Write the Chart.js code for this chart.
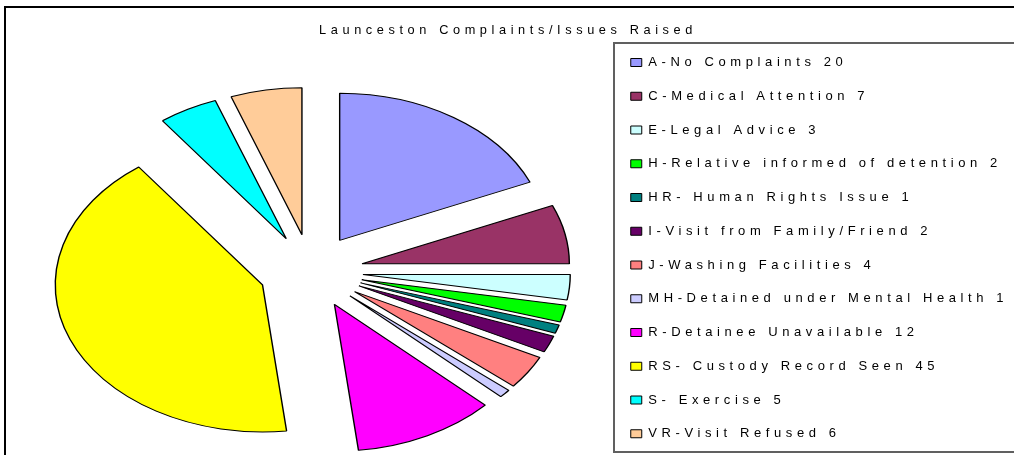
<!DOCTYPE html>
<html>
<head>
<meta charset="utf-8">
<script src="https://cdn.jsdelivr.net/npm/chart.js@4/dist/chart.umd.min.js"></script>
<style>
  html, body { margin: 0; padding: 0; background: #fff; }
  #wrap { width: 1014px; height: 455px; position: relative; }
</style>
</head>
<body>
<div id="wrap"><canvas id="c"></canvas></div>
<script>
const titleText = 'Launceston Complaints/Issues Raised';
const categories = [
  'A-No Complaints',
  'C-Medical Attention',
  'E-Legal Advice',
  'H-Relative informed of detention',
  'HR- Human Rights Issue',
  'I-Visit from Family/Friend',
  'J-Washing Facilities',
  'MH-Detained under Mental Health',
  'R-Detainee Unavailable',
  'RS- Custody Record Seen',
  'S- Exercise',
  'VR-Visit Refused'
];
const values = [20, 7, 3, 2, 1, 2, 4, 1, 12, 45, 5, 6];
const colors = [
  '#9999FF', '#993366', '#CCFFFF', '#00FF00', '#008080', '#660066',
  '#FF8080', '#CCCCFF', '#FF00FF', '#FFFF00', '#00FFFF', '#FFCC99'
];

const FONT = "'Liberation Sans', Arial, sans-serif";
const LETTER_SPACING = '4.6px';
const X_STRETCH = 1.41;   // Excel draws this pie as an ellipse
const EXPLODE_PX = 37;    // distance every slice is pulled out

// letter spacing for all canvas text (Excel's spaced-out rendering)
const spacingPlugin = {
  id: 'spacing',
  beforeUpdate(chart) { chart.ctx.letterSpacing = LETTER_SPACING; },
  beforeLayout(chart) { chart.ctx.letterSpacing = LETTER_SPACING; },
  beforeDraw(chart) { chart.ctx.letterSpacing = LETTER_SPACING; }
};

// white background, outer chart frame, legend frame
const framePlugin = {
  id: 'frames',
  beforeDraw(chart) {
    const ctx = chart.ctx;
    ctx.save();
    ctx.fillStyle = '#fff';
    ctx.fillRect(0, 0, chart.width, chart.height);
    ctx.restore();
  },
  afterDraw(chart) {
    const ctx = chart.ctx;
    ctx.save();
    ctx.strokeStyle = '#000';
    ctx.lineWidth = 2;
    ctx.beginPath();
    ctx.moveTo(5, chart.height + 5);
    ctx.lineTo(5, 7);
    ctx.lineTo(chart.width + 5, 7);
    ctx.stroke();
    const lg = chart.legend;
    ctx.strokeStyle = '#606060';
    ctx.lineWidth = 2;
    ctx.beginPath();
    ctx.moveTo(chart.width + 5, 452);
    ctx.lineTo(lg.left + 4, 452);
    ctx.lineTo(lg.left + 4, 43);
    ctx.lineTo(chart.width + 5, 43);
    ctx.stroke();
    ctx.restore();
  }
};

// elliptical, exploded pie: stretch horizontally, pull each slice out along its mid-angle
const ellipsePlugin = {
  id: 'ellipse',
  beforeDatasetsDraw(chart) {
    const meta = chart.getDatasetMeta(0);
    const arcs = meta.data;
    if (!arcs.length) return;
    const cx = arcs[0].x, cy = arcs[0].y;
    const ctx = chart.ctx;
    ctx.save();
    ctx.translate(cx, cy);
    ctx.scale(X_STRETCH, 1);
    ctx.translate(-cx, -cy);
    arcs.forEach(a => {
      if (a._exploded) return;
      const baseDraw = a.draw;
      a.draw = function(c, area) {
        const mid = (this.startAngle + this.endAngle) / 2;
        c.save();
        c.translate(Math.cos(mid) * EXPLODE_PX, Math.sin(mid) * EXPLODE_PX);
        baseDraw.call(this, c, area);
        c.restore();
      };
      a._exploded = true;
    });
  },
  afterDatasetsDraw(chart) {
    chart.ctx.restore();
  }
};

new Chart(document.getElementById('c'), {
  type: 'pie',
  data: {
    labels: categories.map((c, i) => c + ' ' + values[i]),
    datasets: [{
      data: values,
      backgroundColor: colors,
      borderColor: '#000',
      borderWidth: 1,
      offset: 0,
      hoverOffset: 0,
      clip: false
    }]
  },
  options: {
    responsive: true,
    maintainAspectRatio: false,
    animation: false,
    events: [],
    radius: 147,
    layout: { padding: { left: 12, right: 10, top: 0, bottom: -6 } },
    plugins: {
      title: {
        display: true,
        text: titleText,
        color: '#000',
        font: { family: FONT, size: 12.75, weight: 'normal', lineHeight: 1 },
        padding: { top: 23.625, bottom: 51.125 }
      },
      legend: {
        position: 'right',
        align: 'end',
        fullSize: true,
        maxWidth: 394,
        labels: {
          boxWidth: 11,
          boxHeight: 8,
          padding: 20.75,
          color: '#000',
          font: { family: FONT, size: 13 }
        }
      },
      tooltip: { enabled: false }
    }
  },
  plugins: [spacingPlugin, framePlugin, ellipsePlugin]
});
</script>
</body>
</html>
